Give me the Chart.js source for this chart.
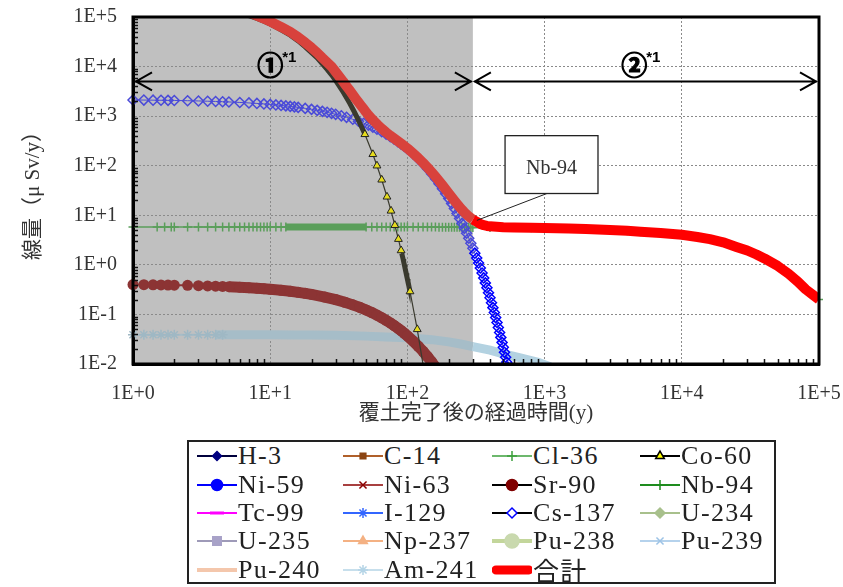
<!DOCTYPE html>
<html lang="ja">
<head>
<meta charset="utf-8">
<title>線量の推移</title>
<script src="https://cdn.jsdelivr.net/npm/chart.js@4.4.1/dist/chart.umd.min.js"></script>
<style>
  html, body { margin: 0; padding: 0; background: #fff; }
  #page { position: relative; width: 843px; height: 587px; overflow: hidden; }
  #chart { position: absolute; left: 0; top: 0; }
  #legend {
    position: absolute; left: 187px; top: 440px; width: 589px; height: 144px;
    box-sizing: border-box; border: 2px solid #222;
    display: grid; grid-template-columns: 146px 149px 148px 132px;
    grid-auto-rows: 28.4px; padding: 0 0 0 8px;
    font-family: 'Liberation Serif', 'Noto Sans CJK JP', serif; font-size: 26px; color: #222;
  }
  .item { display: flex; align-items: center; white-space: nowrap; letter-spacing: 1.3px; }
  .item canvas { display: block; width: 40px; height: 22px; margin-right: 1px; }
</style>
</head>
<body>
<div id="page">
  <canvas id="chart" width="843" height="432"></canvas>
  <div id="legend"></div>
</div>
<script>
// axis ticks
const xTicks = [1, 10, 100, 1000, 10000, 100000];
const xTickLabels = ['1E+0', '1E+1', '1E+2', '1E+3', '1E+4', '1E+5'];
const yTicks = [0.01, 0.1, 1, 10, 100, 1000, 10000, 100000];
const yTickLabels = ['1E-2', '1E-1', '1E+0', '1E+1', '1E+2', '1E+3', '1E+4', '1E+5'];
const xTitle = '覆土完了後の経過時間(y)';
const yTitle = '線量（μ Sv/y）';
const phaseEnd = 300; // end of period ① (years)

// Co-60
const coT = [6, 7, 8, 9, 10, 12, 14, 16, 18, 20,
  22, 24, 26, 28, 30, 32, 34, 36, 38, 40,
  42, 44, 46, 49, 56, 60, 65, 71, 76, 81,
  86, 90, 91, 92, 93, 94, 95, 96, 97, 98,
  99, 100, 101, 102, 103, 104.5, 118, 135];
const coV = [122000, 107000, 94000, 82000, 72000, 55000, 43000, 33000, 25000, 19000,
  15000, 11400, 8800, 6800, 5200, 4000, 3070, 2350, 1810, 1390,
  1070, 820, 634, 430, 170, 100, 52, 23.6, 12.3, 6.3,
  3.3, 1.95, 1.7, 1.49, 1.31, 1.14, 1.0, 0.88, 0.77, 0.68,
  0.59, 0.52, 0.46, 0.40, 0.35, 0.29, 0.05, 0.0052];

// Cs-137
const csT = [1, 1.2, 1.4, 1.6, 1.8, 2, 2.5, 3, 3.5, 4,
  4.5, 5, 6, 7, 8, 9, 10, 11, 12, 13,
  14, 15, 16, 18, 20, 22, 24, 26, 28, 30,
  33, 36, 40, 44, 48, 52, 56, 60, 65, 70,
  75, 80, 85, 90, 95, 100, 110, 120, 130, 140,
  150, 160, 170, 180, 190, 200, 210, 220, 230, 240,
  250, 260, 270, 280, 290, 300, 310, 320, 330, 340,
  350, 360, 370, 380, 390, 400, 410, 420, 430, 440,
  450, 460, 470, 480, 490, 500, 510, 520, 530, 540];
const csV = [2120, 2110, 2100, 2091, 2081, 2072, 2048, 2025, 2001, 1979,
  1956, 1934, 1890, 1847, 1805, 1764, 1724, 1684, 1646, 1609,
  1572, 1536, 1501, 1434, 1370, 1308, 1249, 1193, 1139, 1088,
  1015, 947, 864, 788, 719, 655, 597, 545, 486, 433,
  386, 344, 307, 273, 244, 217, 172, 137, 109, 86.4,
  68.6, 54.5, 43.3, 34.4, 27.3, 21.7, 17.2, 13.7, 10.9, 8.64,
  6.86, 5.45, 4.33, 3.44, 2.73, 2.17, 1.72, 1.37, 1.09, 0.864,
  0.686, 0.545, 0.433, 0.344, 0.273, 0.217, 0.172, 0.137, 0.109, 0.0864,
  0.0686, 0.0545, 0.0433, 0.0344, 0.0273, 0.0217, 0.0172, 0.0137, 0.0109, 0.0087];

// Nb-94
const nbT = [1, 1.5, 1.7, 1.9, 2, 2.5, 3, 3.5, 4, 4.5,
  5, 5.5, 6, 6.5, 7, 7.5, 8, 8.5, 9, 9.5,
  10, 11, 12, 13, 20, 30, 40, 50, 55, 60,
  65, 70, 75, 80, 85, 90, 95, 100, 110, 120,
  130, 140, 150, 160, 170, 180, 190, 200, 210, 220,
  230, 240, 250, 260, 270, 280, 290, 300, 400, 500,
  600, 800, 1000, 1500, 2000, 3000, 4000, 5000, 7000, 10000,
  13000, 16000, 20000, 25000, 30000, 35000, 40000, 50000, 60000, 70000,
  80000, 90000, 100000];
const nbV = [5.8, 5.8, 5.8, 5.8, 5.8, 5.8, 5.8, 5.8, 5.8, 5.8,
  5.8, 5.8, 5.8, 5.8, 5.8, 5.8, 5.8, 5.8, 5.8, 5.8,
  5.8, 5.8, 5.8, 5.8, 5.8, 5.8, 5.8, 5.8, 5.8, 5.8,
  5.8, 5.8, 5.8, 5.8, 5.8, 5.8, 5.8, 5.8, 5.79, 5.79,
  5.78, 5.78, 5.77, 5.77, 5.76, 5.76, 5.75, 5.75, 5.74, 5.74,
  5.73, 5.73, 5.72, 5.72, 5.71, 5.71, 5.7, 5.7, 5.68, 5.66,
  5.64, 5.6, 5.55, 5.4, 5.28, 5.05, 4.85, 4.65, 4.4, 4.05,
  3.65, 3.3, 2.85, 2.3, 1.95, 1.62, 1.35, 0.95, 0.66, 0.46,
  0.32, 0.25, 0.2];

// Sr-90
const srT = [1, 1.2, 1.4, 1.6, 1.8, 2, 2.5, 3, 3.5, 4,
  4.5, 5, 6, 7, 8, 9, 10, 12, 14, 16,
  18, 20, 25, 30, 35, 40, 45, 50, 55, 60,
  65, 70, 75, 80, 85, 90, 95, 100, 110, 120,
  130, 140, 150, 160];
const srV = [0.40, 0.398, 0.396, 0.394, 0.392, 0.390, 0.386, 0.381, 0.376, 0.372,
  0.368, 0.363, 0.355, 0.346, 0.338, 0.330, 0.322, 0.307, 0.293, 0.279,
  0.266, 0.253, 0.224, 0.199, 0.176, 0.156, 0.139, 0.123, 0.109, 0.0967,
  0.0857, 0.076, 0.0674, 0.0598, 0.053, 0.047, 0.0417, 0.0369, 0.029, 0.0228,
  0.018, 0.0141, 0.0111, 0.0087];

// Am-241
const amT = [1, 1.2, 1.4, 1.6, 1.8, 2, 2.5, 3, 3.5, 4,
  4.5, 5, 6, 8, 10, 15, 20, 30, 50, 70,
  100, 150, 200, 250, 300, 400, 500, 600, 700, 800,
  900, 1000, 1100];
const amV = [0.039, 0.039, 0.039, 0.039, 0.039, 0.039, 0.039, 0.039, 0.039, 0.039,
  0.039, 0.039, 0.0389, 0.0389, 0.0388, 0.0386, 0.0384, 0.038, 0.0365, 0.0352,
  0.034, 0.031, 0.028, 0.025, 0.0225, 0.019, 0.016, 0.0142, 0.0128, 0.0117,
  0.0108, 0.0097, 0.0088];

// 合計
const totT = [6, 7, 8, 9, 10, 12, 14, 16, 18, 20,
  22, 24, 26, 28, 30, 32, 34, 36, 38, 40,
  42, 44, 46, 48, 50, 52, 55, 58, 61, 65,
  70, 75, 80, 90, 100, 110, 120, 130, 140, 150,
  160, 170, 180, 190, 200, 210, 220, 230, 240, 250,
  260, 270, 280, 290, 300, 320, 340, 360, 380, 400,
  500, 600, 800, 1000, 1500, 2000, 3000, 4000, 5000, 7000,
  10000, 13000, 16000, 20000, 25000, 30000, 35000, 40000, 50000, 60000,
  70000, 80000, 90000, 100000];
const totV = [150000, 125000, 107000, 93000, 81000, 63000, 50000, 39000, 30500, 24000,
  19000, 15000, 12200, 10000, 7800, 6200, 5000, 4000, 3300, 2700,
  2250, 1900, 1620, 1400, 1200, 1050, 880, 760, 660, 560,
  470, 405, 357, 281, 224, 178, 143, 115, 92.5, 74.7,
  60.6, 49.4, 40.5, 33.4, 27.8, 23.3, 19.8, 17.0, 14.7, 12.9,
  11.5, 10.4, 9.5, 8.8, 8.2, 7.4, 6.65, 6.3, 6.1, 5.98,
  5.72, 5.67, 5.61, 5.56, 5.4, 5.28, 5.05, 4.85, 4.65, 4.4,
  4.05, 3.65, 3.3, 2.85, 2.3, 1.95, 1.62, 1.35, 0.95, 0.66,
  0.46, 0.32, 0.25, 0.2];

// legend entries (all nuclides, most stay below 1E-2 and never show in the plot)
const legendItems = [
  { name: 'H-3', line: '#00003c', lw: 2, mk: 'rectRot', r: 4.5, fill: '#000080', stroke: '#000080' },
  { name: 'C-14', line: '#b0602a', lw: 2, mk: 'rect', r: 4, fill: '#8b4513', stroke: '#8b4513' },
  { name: 'Cl-36', line: '#3ca03c', lw: 1.5, mk: 'cross', r: 5, stroke: '#3ca03c' },
  { name: 'Co-60', line: '#000', lw: 2, mk: 'triangle', r: 5, fill: '#ffff00', stroke: '#000' },
  { name: 'Ni-59', line: '#0000ff', lw: 2, mk: 'circle', r: 5.5, fill: '#0000ff', stroke: '#0000ff' },
  { name: 'Ni-63', line: '#8b0000', lw: 1.5, mk: 'crossRot', r: 5, stroke: '#8b0000' },
  { name: 'Sr-90', line: '#000', lw: 2, mk: 'circle', r: 5.5, fill: '#800000', stroke: '#800000' },
  { name: 'Nb-94', line: '#1e8c1e', lw: 2, mk: 'cross', r: 5, stroke: '#1e8c1e' },
  { name: 'Tc-99', line: '#ff00ff', lw: 2, mk: 'line', r: 7, stroke: '#ff00ff', mw: 3 },
  { name: 'I-129', line: '#3366ff', lw: 2, mk: 'star', r: 5, stroke: '#3366ff' },
  { name: 'Cs-137', line: '#000', lw: 2, mk: 'rectRot', r: 5, fill: '#fff', stroke: '#0000ff' },
  { name: 'U-234', line: '#a8c08c', lw: 2, mk: 'rectRot', r: 5, fill: '#a8c08c', stroke: '#a8c08c' },
  { name: 'U-235', line: '#9e9ab8', lw: 2, mk: 'rect', r: 6, fill: '#a8a2c8', stroke: '#a8a2c8' },
  { name: 'Np-237', line: '#f4b183', lw: 2, mk: 'triangle', r: 5, fill: '#f4b183', stroke: '#f4b183' },
  { name: 'Pu-238', line: '#c3d69b', lw: 4, mk: 'circle', r: 7, fill: '#c9d9ae', stroke: '#c9d9ae' },
  { name: 'Pu-239', line: '#9dc3e6', lw: 1.5, mk: 'crossRot', r: 5, stroke: '#9dc3e6' },
  { name: 'Pu-240', line: '#f4c7ac', lw: 4 },
  { name: 'Am-241', line: '#b4d4e6', lw: 1.5, mk: 'star', r: 5, stroke: '#b4d4e6' },
  { name: '合計', line: '#ff0000', lw: 9, cap: 'round' }
];

function pts(t, v) {
  return t.map((x, i) => ({ x: x, y: v[i] }));
}
const coDense = x => x < 46.5 || (x >= 91 && x < 103.5);
const inPhase1 = x => x < phaseEnd;

const tickFont = { family: "'Liberation Serif', serif", size: 20 };
const titleFont = { family: "'Liberation Serif', 'Noto Sans CJK JP', serif", size: 21 };

// keep the plot box where the layout padding puts it
function noScalePadding(s) {
  s.paddingLeft = 0;
  s.paddingRight = 0;
  s.paddingTop = 0;
  s.paddingBottom = 0;
}

const overlay = {
  id: 'overlay',
  beforeDraw(chart) {
    const { ctx, chartArea: a, scales: { x } } = chart;
    ctx.save();
    ctx.fillStyle = '#c0c0c0';
    ctx.fillRect(a.left, a.top, x.getPixelForValue(phaseEnd) - a.left, a.bottom - a.top);
    ctx.restore();
  },
  afterDatasetsDraw(chart) {
    const { ctx, chartArea: a, scales: { x, y } } = chart;
    ctx.save();
    // minor ticks, inside the frame
    ctx.strokeStyle = '#111';
    ctx.lineWidth = 1.5;
    ctx.beginPath();
    xTicks.slice(0, -1).forEach(d => {
      for (let k = 2; k < 10; k++) {
        const px = Math.round(x.getPixelForValue(d * k)) + 0.5;
        ctx.moveTo(px, a.bottom);
        ctx.lineTo(px, a.bottom - 5);
      }
    });
    yTicks.slice(0, -1).forEach(d => {
      for (let k = 2; k < 10; k++) {
        const py = Math.round(y.getPixelForValue(d * k)) + 0.5;
        ctx.moveTo(a.left, py);
        ctx.lineTo(a.left + 5, py);
      }
    });
    ctx.stroke();

    ctx.lineWidth = 3;
    ctx.strokeStyle = '#000';
    ctx.strokeRect(a.left, a.top, a.right - a.left, a.bottom - a.top);

    // period arrows
    const xe = x.getPixelForValue(phaseEnd);
    const ay = y.getPixelForValue(5000);
    const arrow = (x1, x2) => {
      ctx.beginPath();
      ctx.moveTo(x1, ay); ctx.lineTo(x2, ay);
      ctx.moveTo(x1 + 17, ay - 9); ctx.lineTo(x1 + 1, ay); ctx.lineTo(x1 + 17, ay + 9);
      ctx.moveTo(x2 - 17, ay - 9); ctx.lineTo(x2 - 1, ay); ctx.lineTo(x2 - 17, ay + 9);
      ctx.stroke();
    };
    ctx.lineWidth = 2;
    arrow(a.left + 2, xe - 1);
    arrow(xe + 1, a.right - 2);

    const mark = (txt, vx) => {
      const cx = x.getPixelForValue(vx), cy = y.getPixelForValue(10800);
      ctx.fillStyle = '#000';
      ctx.strokeStyle = '#000';
      ctx.lineWidth = 1.2;
      ctx.font = "bold 26px 'Noto Sans CJK JP'";
      ctx.textAlign = 'center';
      ctx.textBaseline = 'middle';
      ctx.fillText(txt, cx, cy);
      ctx.strokeText(txt, cx, cy);
      ctx.font = "bold 15px 'Liberation Sans'";
      ctx.textAlign = 'left';
      ctx.fillText('*1', cx + 12, cy - 7);
    };
    mark('①', 10);
    mark('②', 4500);

    // Nb-94 callout
    const bx1 = x.getPixelForValue(515), bx2 = x.getPixelForValue(2450);
    const by1 = y.getPixelForValue(404), by2 = y.getPixelForValue(27.5);
    ctx.lineWidth = 1;
    ctx.strokeStyle = '#222';
    ctx.beginPath();
    ctx.moveTo(x.getPixelForValue(1040), by2);
    ctx.lineTo(x.getPixelForValue(321), y.getPixelForValue(7.9));
    ctx.stroke();
    ctx.fillStyle = '#fff';
    ctx.fillRect(bx1, by1, bx2 - bx1, by2 - by1);
    ctx.lineWidth = 1.3;
    ctx.strokeRect(bx1, by1, bx2 - bx1, by2 - by1);
    ctx.fillStyle = '#333';
    ctx.font = "20px 'Liberation Serif'";
    ctx.textAlign = 'center';
    ctx.textBaseline = 'middle';
    ctx.fillText('Nb-94', (bx1 + bx2) / 2, (by1 + by2) / 2 + 4);
    ctx.restore();
  }
};

const datasets = [
  {
    label: '合計', data: pts(totT, totV), order: 1,
    borderColor: '#ff0000', borderWidth: 10, pointRadius: 0,
    borderJoinStyle: 'round', clip: 0,
    segment: { borderColor: c => inPhase1(c.p0.parsed.x) ? '#d8423c' : '#ff0000' }
  },
  {
    label: 'Co-60', data: pts(coT, coV), order: 2,
    borderColor: '#3a3a2e', borderWidth: 1.2, clip: 0,
    segment: { borderWidth: c => coDense(c.p0.parsed.x) ? 5 : 1.2 },
    pointStyle: 'triangle',
    pointRadius: c => (c.raw && !coDense(c.raw.x)) ? 4.5 : 0,
    pointBackgroundColor: '#e6dc1e', pointBorderColor: '#222', pointBorderWidth: 1
  },
  {
    label: 'Cs-137', data: pts(csT, csV), order: 3,
    borderColor: '#4a4ad8', borderWidth: 1,
    clip: { left: 8, top: 0, right: 0, bottom: 0 },
    pointStyle: 'rectRot', pointRadius: 5, pointBorderWidth: 1.5,
    pointBackgroundColor: 'rgba(0,0,0,0)',
    pointBorderColor: c => (c.raw && c.raw.x > phaseEnd) ? '#0000ff' : '#4a4ad8'
  },
  {
    label: 'Nb-94', data: pts(nbT, nbV), order: 4,
    borderColor: '#5a9e5a', borderWidth: 1.5,
    clip: { left: 8, top: 0, right: 4, bottom: 0 },
    segment: {
      borderWidth: c => (c.p0.parsed.x >= 13 && c.p0.parsed.x < 50) ? 7 : 1.5,
      borderColor: c => inPhase1(c.p0.parsed.x) ? '#5a9e5a' : '#38a038'
    },
    pointStyle: 'cross',
    pointRadius: c => (c.raw && c.raw.x > 13 && c.raw.x < 50) ? 0 : 4.5,
    pointBorderColor: '#5a9e5a', pointBorderWidth: 1.5
  },
  {
    label: 'Sr-90', data: pts(srT, srV), order: 5,
    borderColor: '#8c3434', clip: { left: 8, top: 0, right: 0, bottom: 0 },
    segment: { borderWidth: c => c.p0.parsed.x < 5 ? 2 : 11 },
    pointStyle: 'circle', pointRadius: 5.5,
    pointBackgroundColor: '#8c3434', pointBorderColor: '#8c3434', pointBorderWidth: 0
  },
  {
    label: 'Am-241', data: pts(amT, amV), order: 6,
    borderColor: '#a6bdc8', clip: { left: 8, top: 0, right: 0, bottom: 0 },
    segment: {
      borderWidth: c => c.p0.parsed.x < 4 ? 2 : 9,
      borderColor: c => inPhase1(c.p0.parsed.x) ? '#a6bdc8' : '#b3d2e1'
    },
    pointStyle: 'star',
    pointRadius: c => (c.raw && c.raw.x < 5) ? 5 : 0,
    pointBorderColor: '#9fb8c4', pointBorderWidth: 1.5
  }
];

new Chart(document.getElementById('chart').getContext('2d'), {
  type: 'line',
  data: { datasets: datasets },
  options: {
    responsive: false,
    animation: false,
    devicePixelRatio: 1,
    layout: { padding: { top: 17, right: 24, bottom: 0, left: 0 } },
    plugins: { legend: { display: false }, tooltip: { enabled: false } },
    elements: { line: { tension: 0 } },
    scales: {
      x: {
        type: 'logarithmic', min: 1, max: 100000,
        afterBuildTicks: s => { s.ticks = xTicks.map(v => ({ value: v })); },
        afterFit: s => { s.height = 68; noScalePadding(s); },
        ticks: {
          autoSkip: false, maxRotation: 0, padding: 18, color: '#333', font: tickFont,
          callback: (v, i) => xTickLabels[i]
        },
        grid: { color: '#8a8a8a', lineWidth: 1, drawTicks: false },
        border: { color: '#000', width: 3, dash: [2, 2] },
        title: { display: true, text: xTitle, color: '#333', font: titleFont, padding: { top: 0, bottom: 6 } }
      },
      y: {
        type: 'logarithmic', min: 0.01, max: 100000,
        afterBuildTicks: s => { s.ticks = yTicks.map(v => ({ value: v })); },
        afterFit: s => { s.width = 133; noScalePadding(s); },
        ticks: {
          autoSkip: false, padding: 16, color: '#333', font: tickFont,
          callback: (v, i) => yTickLabels[i]
        },
        grid: { color: '#8a8a8a', lineWidth: 1, drawTicks: false },
        border: { color: '#000', width: 3, dash: [2, 2] },
        title: { display: true, text: yTitle, color: '#333', font: titleFont, padding: { top: 21, bottom: 0 } }
      }
    }
  },
  plugins: [overlay]
});

// legend below the chart, 4 columns
const legendEl = document.getElementById('legend');
legendItems.forEach(it => {
  const cell = document.createElement('div');
  cell.className = 'item';
  const cv = document.createElement('canvas');
  cv.width = 40;
  cv.height = 22;
  const c = cv.getContext('2d');
  c.strokeStyle = it.line;
  c.lineWidth = it.lw;
  c.lineCap = it.cap || 'butt';
  c.beginPath();
  c.moveTo(it.cap ? 4 : 0, 11);
  c.lineTo(it.cap ? 37 : 40, 11);
  c.stroke();
  if (it.mk && Chart.helpers && Chart.helpers.drawPoint) {
    c.lineCap = 'butt';
    c.fillStyle = it.fill || 'rgba(0,0,0,0)';
    c.strokeStyle = it.stroke;
    c.lineWidth = it.mw || 1.5;
    Chart.helpers.drawPoint(c, { pointStyle: it.mk, radius: it.r, rotation: 0, borderWidth: it.mw || 1.5 }, 20, 11);
  }
  const sp = document.createElement('span');
  sp.textContent = it.name;
  cell.append(cv, sp);
  legendEl.append(cell);
});
</script>
</body>
</html>
